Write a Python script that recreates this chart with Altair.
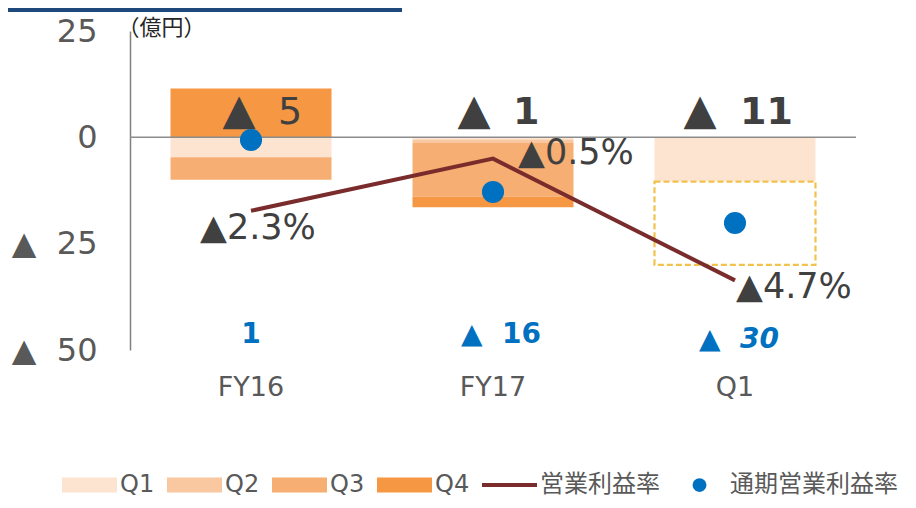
import altair as alt
import pandas as pd

FONT = "DejaVu Sans, Noto Sans CJK JP"
JP_FONT = "Noto Sans CJK JP, DejaVu Sans"
NBSP = "\u00a0"

# ---------------- data ----------------
categories = ["FY16", "FY17", "Q1"]
quarter_names = ["Q1", "Q2", "Q3", "Q4"]
q1_values = [-4.7, -0.5, -10.4]
q2_values = [0.0, -0.85, 0.0]
q3_values = [-5.3, -12.6, 0.0]
q4_values = [11.5, -2.5, 0.0]
forecast_start = [None, None, -10.4]
forecast_end = [None, None, -30.0]
op_margin = [-2.3, -0.5, -4.7]          # 営業利益率 (%)
full_year_margin = [0.14, -1.65, -2.72]  # 通期営業利益率 (%)
top_labels = ["▲ 5", "▲ 1", "▲ 11"]
total_labels = ["1", "▲" + NBSP + " 16", "▲" + NBSP + " 30"]
margin_labels = ["▲2.3%", "▲0.5%", "▲4.7%"]
y_ticks = [25, 0, -25, -50]

quarter_colors = ["#FDE4D0", "#FAC8A0", "#F6AE72", "#F59743"]
line_color = "#7A2B2B"
dot_color = "#0070C0"
legend_names = quarter_names + ["営業利益率", "通期営業利益率"]
legend_colors = quarter_colors + [line_color, dot_color]
rect_path = "M-1,-0.27 L1,-0.27 L1,0.27 L-1,0.27 Z"
line_path = "M-1,-0.075 L1,-0.075 L1,0.075 L-1,0.075 Z"
dot_path = "M0.25,0 A0.25,0.25 0 1,1 -0.25,0 A0.25,0.25 0 1,1 0.25,0 Z"
legend_paths = [rect_path] * 4 + [line_path, dot_path]

# ---------------- tables ----------------
rows = []
for qi, (qn, vals) in enumerate(zip(quarter_names, [q1_values, q2_values, q3_values, q4_values])):
    for c, v in zip(categories, vals):
        if v != 0:
            rows.append({"cat": c, "quarter": qn, "value": v, "ord": qi, "color": quarter_colors[qi]})
bars_df = pd.DataFrame(rows)

base_df = pd.DataFrame({
    "cat": categories,
    "fs": forecast_start,
    "fe": forecast_end,
    "margin": op_margin,
    "fy": full_year_margin,
    "top": top_labels,
    "total": total_labels,
    "mlabel": margin_labels,
})
forecast_df = base_df.dropna(subset=["fs"])
legend_df = pd.DataFrame({"name": legend_names})
zero_df = pd.DataFrame({"z": [0]})

# ---------------- encodings ----------------
x_enc = alt.X(
    "cat:N", sort=categories,
    scale=alt.Scale(paddingInner=0.3347, paddingOuter=0.1674),
    axis=alt.Axis(title=None, labelFontSize=27, labelColor="#595959", labelFont=FONT,
                  ticks=False, domain=False, labelPadding=24, labelAngle=0),
)
y_scale = alt.Scale(domain=[-50, 25], nice=False)
y_axis = alt.Axis(
    values=y_ticks,
    labelExpr="datum.value < 0 ? '▲\u00a0 ' + (-datum.value) : '' + datum.value",
    grid=False, ticks=False, domainColor="#808080", domainWidth=1.5,
    labelFontSize=32, labelColor="#595959", labelFont=FONT, labelPadding=33,
    labelFlush=False, labelOverlap=False,
    title="（億円）", titleAngle=0, titleX=-13, titleY=-4, titleAlign="left",
    titleBaseline="middle", titleFontSize=22, titleFontWeight="normal",
    titleColor="#262626", titleFont=JP_FONT,
)
y2_scale = alt.Scale(domain=[-7.1, 3.9], nice=False)

# ---------------- primary layer ----------------
bars = alt.Chart(bars_df).mark_bar().encode(
    x=x_enc,
    y=alt.Y("value:Q", stack="zero", scale=y_scale, axis=y_axis),
    fill=alt.Fill("color:N", scale=None),
    order=alt.Order("ord:Q"),
)
forecast = alt.Chart(forecast_df).mark_bar(
    fill="white", stroke="#F2C14E", strokeDash=[6, 3], strokeWidth=2.2
).encode(x=x_enc, y=alt.Y("fs:Q", scale=y_scale), y2="fe:Q")

zero_rule = alt.Chart(zero_df).mark_rule(color="#8c8c8c", strokeWidth=1.5).encode(
    y=alt.Y("z:Q", scale=y_scale)
)

split_df = alt.Chart(base_df).transform_calculate(
    tri="split(datum.top, ' ')[0]", num="split(datum.top, ' ')[1]"
)


def top_parts(cat, tri_dx, num_dx, weight):
    src = split_df.transform_filter(f"datum.cat == '{cat}'")
    tri = src.mark_text(fontSize=43, color="#404040", font=FONT, dx=tri_dx,
                        baseline="middle", align="center").encode(
        x=x_enc, y=alt.datum(6.3), text="tri:N")
    num = src.mark_text(fontSize=38, fontWeight=weight, color="#404040", font=FONT,
                        dx=num_dx, baseline="middle", align="left").encode(
        x=x_enc, y=alt.datum(5.8), text="num:N")
    return [tri, num]


top_layers = (top_parts("FY16", -12, 27, "normal")
              + top_parts("FY17", -19, 20, "bold")
              + top_parts("Q1", -35, 5, "bold"))


def total_part(cat, dx, dy, style):
    return alt.Chart(base_df).transform_filter(f"datum.cat == '{cat}'").mark_text(
        fontSize=28, fontWeight="bold", fontStyle=style, color=dot_color, font=FONT,
        dx=dx, dy=dy, baseline="middle", align="center"
    ).encode(x=x_enc, y=alt.datum(-46.5), text="total:N")


total_layers = [total_part("FY16", 0, 0, "normal"),
                total_part("FY17", 8, 0, "normal"),
                total_part("Q1", 4, 5, "italic")]

legend_cfg = alt.Legend(
    title=None, orient="none", legendX=-68, legendY=426.5, direction="horizontal",
    columns=6, columnPadding=12, labelOffset=3, gridAlign="none",
    symbolSize=3025, symbolStrokeWidth=0, labelFontSize=24, labelColor="#595959",
    labelFont=FONT, labelLimit=400, padding=0,
)
legend_layer = alt.Chart(legend_df).transform_filter("false").mark_point(
    filled=True, opacity=1
).encode(
    color=alt.Color("name:N", scale=alt.Scale(domain=legend_names, range=legend_colors), legend=legend_cfg),
    shape=alt.Shape("name:N", scale=alt.Scale(domain=legend_names, range=legend_paths), legend=legend_cfg),
)

top_band = alt.Chart(zero_df).mark_rule(color="#1F497D", strokeWidth=4).encode(
    x=alt.value(-122), x2=alt.value(272), y=alt.value(-21)
)

primary = alt.layer(bars, forecast, zero_rule, *top_layers, *total_layers,
                    legend_layer, top_band)

# ---------------- secondary layer (margins) ----------------
line = alt.Chart(base_df).mark_line(color=line_color, strokeWidth=4).encode(
    x=x_enc, y=alt.Y("margin:Q", scale=y2_scale, axis=None)
)
dots = alt.Chart(base_df).mark_circle(size=490, color=dot_color, opacity=1).encode(
    x=x_enc, y=alt.Y("fy:Q", scale=y2_scale, axis=None)
)


def margin_text(cat, dx, dy):
    return alt.Chart(base_df).transform_filter(f"datum.cat == '{cat}'").mark_text(
        fontSize=35, color="#404040", font=FONT, align="left", baseline="middle", dx=dx, dy=dy
    ).encode(x=x_enc, y=alt.Y("margin:Q", scale=y2_scale, axis=None), text="mlabel:N")


secondary = alt.layer(
    line, dots,
    margin_text("FY16", -51, 17),
    margin_text("FY17", 25, -6),
    margin_text("Q1", 1, 7),
)

chart = alt.layer(primary, secondary).resolve_scale(y="independent").properties(
    width=726, height=319,
    autosize=alt.AutoSizeParams(type="none"),
    padding={"left": 122, "top": 23, "right": 52, "bottom": 150},
    background="white",
).configure_view(stroke=None)

chart.save("out.html", embed_options={"renderer": "svg", "actions": False})
